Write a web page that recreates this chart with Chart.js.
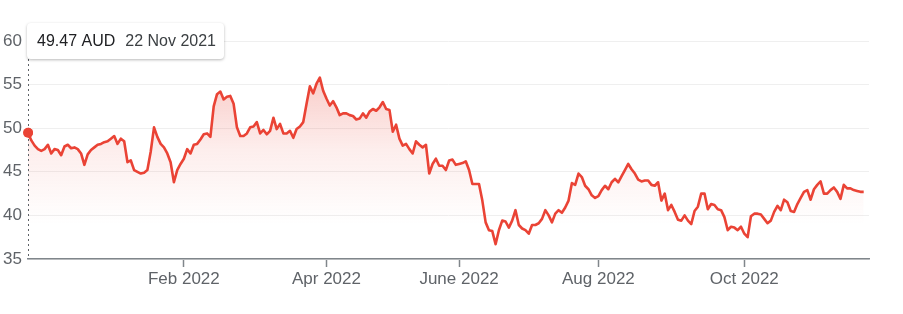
<!DOCTYPE html>
<html>
<head>
<meta charset="utf-8">
<script src="https://cdn.jsdelivr.net/npm/chart.js@4/dist/chart.umd.min.js"></script>
<style>
html,body{margin:0;padding:0;background:#fff;overflow:hidden;}
#wrap{position:relative;width:903px;height:314px;}
canvas{display:block;}
</style>
</head>
<body>
<div id="wrap"><canvas id="c" width="903" height="314"></canvas></div>
<script>
// Closing prices (AUD), one per trading day from 22 Nov 2021
const prices = [
49.47,48.6,48.0,47.6,47.4,47.6,48.1,47.1,47.6,47.5,
46.9,47.9,48.1,47.7,47.8,47.6,47.1,45.8,47.0,47.5,
47.8,48.1,48.2,48.4,48.5,48.8,49.1,48.2,48.8,48.5,
46.1,46.3,45.2,45.0,44.8,44.9,45.2,47.3,50.1,49.0,
48.2,47.8,47.1,46.1,43.8,45.2,45.9,46.5,47.6,47.1,
48.1,48.2,48.7,49.3,49.4,49.0,52.5,53.9,54.2,53.3,
53.6,53.7,52.8,50.1,49.1,49.1,49.4,50.1,50.2,50.7,
49.4,49.8,49.3,49.7,51.2,49.9,50.5,49.4,49.4,49.7,
48.9,49.9,50.2,50.7,52.8,54.8,54.0,55.1,55.8,54.3,
53.4,52.6,53.1,52.4,51.5,51.7,51.7,51.5,51.4,51.0,
51.1,51.7,51.2,51.9,52.2,52.0,52.4,53.0,52.2,52.1,
49.6,50.4,48.8,48.0,48.2,47.6,47.1,48.5,48.1,47.8,
48.1,44.8,45.9,46.5,45.7,45.7,45.2,46.3,46.4,45.8,
45.9,46.0,46.2,45.2,43.6,43.6,43.6,41.7,39.2,38.3,
38.2,36.7,38.3,39.4,39.3,38.6,39.4,40.6,38.9,38.5,
38.3,37.9,38.9,38.9,39.1,39.6,40.6,40.0,39.2,40.2,
40.6,40.3,40.9,41.7,43.7,43.5,44.8,44.4,43.4,43.0,
42.3,42.0,42.2,42.9,43.4,43.0,43.8,44.2,43.8,44.5,
45.2,45.9,45.3,44.8,44.1,43.9,44.0,44.0,43.5,43.4,
43.8,41.7,42.5,40.6,41.2,40.4,39.5,39.4,40.0,39.4,
39.0,40.5,41.0,42.5,42.5,40.7,41.3,41.2,40.7,40.6,
39.8,38.3,38.7,38.6,38.3,38.7,37.9,37.5,39.9,40.2,
40.2,40.1,39.6,39.1,39.4,40.4,41.1,40.6,41.8,41.5,
40.5,40.4,41.3,42.0,42.7,42.9,41.8,43.0,43.5,43.9,
42.5,42.5,42.9,43.2,42.7,41.9,43.5,43.1,43.1,42.9,
42.8,42.7,42.7
];
// Trading-day index of the first session of each labelled month
const tickIndices = [47, 90, 130, 172, 216];
const tickLabels = ['Feb 2022', 'Apr 2022', 'June 2022', 'Aug 2022', 'Oct 2022'];
const yTicks = [35, 40, 45, 50, 55, 60];
const startDate = '22 Nov 2021';
const currency = 'AUD';

const RED = '#ea4335';
const FONT = '"Liberation Sans", Arial, sans-serif';

const points = prices.map((v, i) => ({x: i, y: v}));

const tooltipPlugin = {
  id: 'fixedTip',
  afterDatasetsDraw(chart) {
    const ctx = chart.ctx;
    const meta = chart.getDatasetMeta(0);
    const p = meta.data[0];
    const area = chart.chartArea;
    const bx = p.x - 1, by = 23, bw = 197, bh = 36;
    // dotted guide line
    ctx.save();
    ctx.strokeStyle = '#5f6368';
    ctx.lineWidth = 1;
    ctx.setLineDash([2, 3]);
    ctx.beginPath();
    ctx.moveTo(Math.round(p.x) + 0.5, by + bh);
    ctx.lineTo(Math.round(p.x) + 0.5, area.bottom);
    ctx.stroke();
    ctx.restore();
    // redraw dot on top of line
    ctx.save();
    ctx.fillStyle = RED;
    ctx.beginPath();
    ctx.arc(p.x, p.y, 5, 0, Math.PI * 2);
    ctx.fill();
    ctx.restore();
    // box
    ctx.save();
    ctx.shadowColor = 'rgba(0,0,0,0.28)';
    ctx.shadowBlur = 3;
    ctx.shadowOffsetY = 1;
    ctx.fillStyle = '#fff';
    ctx.beginPath();
    ctx.roundRect(bx, by, bw, bh, 4);
    ctx.fill();
    ctx.restore();
    ctx.save();
    ctx.textBaseline = 'middle';
    ctx.font = '16px ' + FONT;
    ctx.fillStyle = '#202124';
    const t1 = prices[0].toFixed(2) + ' ' + currency;
    ctx.fillText(t1, bx + 10, by + bh / 2 + 1);
    const w1 = ctx.measureText(t1).width;
    ctx.fillStyle = '#3c4043';
    ctx.fillText(startDate, bx + 10 + w1 + 10, by + bh / 2 + 1);
    ctx.restore();
  }
};

const ctx = document.getElementById('c');
new Chart(ctx, {
  type: 'line',
  data: {
    datasets: [{
      data: points,
      borderColor: RED,
      borderWidth: 2.6,
      borderJoinStyle: 'round',
      tension: 0,
      pointRadius: (c) => c.dataIndex === 0 ? 5 : 0,
      pointHoverRadius: 0,
      pointBackgroundColor: RED,
      pointBorderWidth: 0,
      fill: 'start',
      backgroundColor: (c) => {
        const chart = c.chart;
        const {ctx, chartArea, scales} = chart;
        if (!chartArea) return 'rgba(234,67,53,0.1)';
        const y0 = scales.y.getPixelForValue(56);
        const y1 = scales.y.getPixelForValue(39);
        const g = ctx.createLinearGradient(0, y0, 0, y1);
        g.addColorStop(0, 'rgba(234,67,53,0.27)');
        g.addColorStop(0.5, 'rgba(234,67,53,0.09)');
        g.addColorStop(1, 'rgba(234,67,53,0)');
        return g;
      }
    }]
  },
  options: {
    responsive: false,
    animation: false,
    devicePixelRatio: 1,
    layout: {padding: {top: 41, right: 34, bottom: 25, left: 0}},
    plugins: {legend: {display: false}, tooltip: {enabled: false}},
    events: [],
    scales: {
      x: {
        type: 'linear',
        min: 0,
        max: 253.6,
        afterBuildTicks: (s) => { s.ticks = tickIndices.map(v => ({value: v})); },
        afterFit: (s) => { s.height = 30; },
        ticks: {
          autoSkip: false,
          maxRotation: 0,
          padding: 2,
          color: '#5f6368',
          font: {size: 17, family: FONT},
          callback: (v) => tickLabels[tickIndices.indexOf(v)]
        },
        grid: {drawOnChartArea: false, drawTicks: true, tickLength: 8, tickColor: '#80868b', tickWidth: 1.5},
        border: {display: true, color: '#80868b', width: 1.5}
      },
      y: {
        min: 35,
        max: 60,
        afterBuildTicks: (s) => { s.ticks = yTicks.map(v => ({value: v})); },
        afterFit: (s) => { s.width = 28; },
        ticks: {
          padding: 6,
          color: '#5f6368',
          font: {size: 17, family: FONT}
        },
        grid: {color: '#efefef', drawTicks: false, lineWidth: 1},
        border: {display: false}
      }
    }
  },
  plugins: [tooltipPlugin]
});
</script>
</body>
</html>
